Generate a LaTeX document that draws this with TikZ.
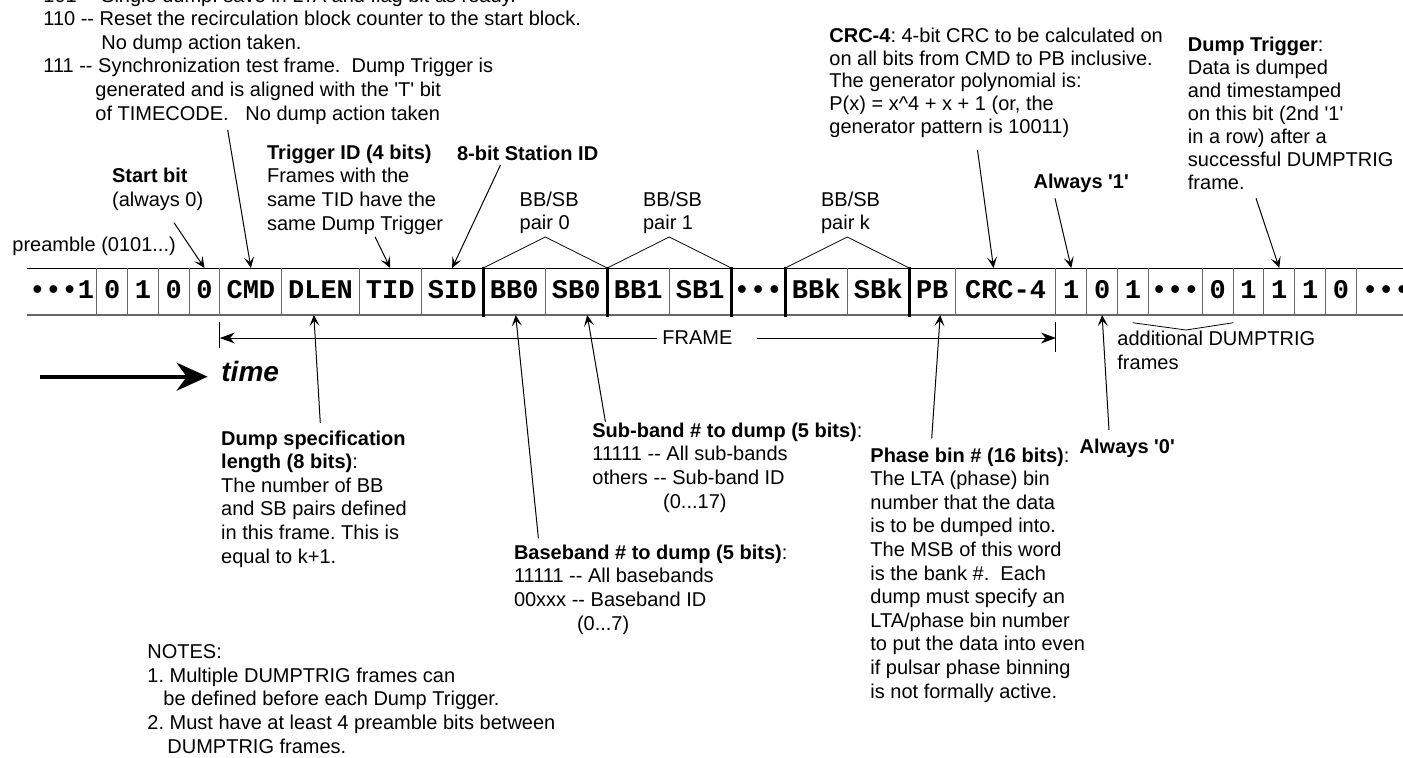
\documentclass[tikz,border=0pt]{standalone}
\usepackage{fontspec}
\setmainfont{Liberation Sans}
\newfontfamily\cellfont{Liberation Mono}
\usetikzlibrary{arrows.meta,positioning,calc}
\newcommand\dhy{-{}-}
\newcommand\sq{\textquotesingle}
\frenchspacing

\begin{document}
\begin{tikzpicture}[x=0.5pt,y=-0.5pt,
    txt/.style={anchor=base west, inner sep=0, align=left, font=\fontsize{10}{11.8}\selectfont},
    cell/.style={inner sep=0, outer sep=0, minimum height=23.5pt, text height=8pt, text depth=1.5pt,
      font=\cellfont\bfseries\fontsize{13.5}{14}\selectfont},
    bitc/.style={cell, minimum width=15.4pt},
    wordc/.style={cell, minimum width=31pt},
    sepline/.style={black!60, line width=0.5pt},
    pairline/.style={line width=1.5pt},
    ptr/.style={-{Stealth[length=5.5pt,width=5pt,inset=2.5pt]}, line width=0.5pt},
    bigptr/.style={-{Stealth[length=7.5pt,width=5.5pt]}, line width=0.5pt}]
    \useasboundingbox (0,0) rectangle (1403,757);
    \clip (0,0) rectangle (1403,757);

    % the bit stream
    \node[cell, minimum width=35pt, anchor=west] (b0) at (26.7,291.5) {•••1};
    \node[bitc, right=0pt of b0] (b1) {0};
    \node[bitc, right=0pt of b1] (b2) {1};
    \node[bitc, right=0pt of b2] (b3) {0};
    \node[bitc, right=0pt of b3] (b4) {0};
    \node[wordc, right=0pt of b4] (cmd) {CMD};
    \node[wordc, minimum width=38.65pt, right=0pt of cmd] (dlen) {DLEN};
    \node[wordc, right=0pt of dlen] (tid) {TID};
    \node[wordc, right=0pt of tid] (sid) {SID};
    \node[wordc, right=0pt of sid] (bb0) {BB0};
    \node[wordc, right=0pt of bb0] (sb0) {SB0};
    \node[wordc, right=0pt of sb0] (bb1) {BB1};
    \node[wordc, right=0pt of bb1] (sb1) {SB1};
    \node[cell, minimum width=27pt, right=0pt of sb1] (gap) {•••};
    \node[wordc, right=0pt of gap] (bbk) {BBk};
    \node[wordc, right=0pt of bbk] (sbk) {SBk};
    \node[cell, minimum width=23pt, right=0pt of sbk] (pb) {PB};
    \node[cell, minimum width=50.35pt, right=0pt of pb] (crc) {CRC-4};
    \node[bitc, right=0pt of crc] (c1) {1};
    \node[bitc, right=0pt of c1] (c2) {0};
    \node[bitc, right=0pt of c2] (c3) {1};
    \node[cell, minimum width=27pt, right=0pt of c3] (cdots) {•••};
    \node[bitc, right=0pt of cdots] (c4) {0};
    \node[bitc, right=0pt of c4] (c5) {1};
    \node[bitc, right=0pt of c5] (c6) {1};
    \node[bitc, right=0pt of c6] (c7) {1};
    \node[bitc, right=0pt of c7] (c8) {0};
    \node[cell, minimum width=30pt, right=0pt of c8] (cend) {•••};

    \draw[black!60, line width=1pt] (b0.south west) -- (cend.south east);
    \draw (b0.north west) -- (cend.north east);
    \foreach \c in {b0,b1,b2,b3,b4,cmd,dlen,tid,bb0,bb1,bbk,pb,crc,c1,c2,c3,cdots,c4,c5,c6,c7,c8}
      \draw[sepline] (\c.north east) -- (\c.south east);
    \foreach \c in {sid,sb0,sb1,gap,sbk}
      \draw[pairline] ($(\c.north east)+(0,-1)$) -- ($(\c.south east)+(0,2)$);

    % BB/SB pairs
    \foreach \a/\b in {bb0/sb0,bb1/sb1,bbk/sbk}
      \draw (\a.north west) -- ($(\a.north east)+(0,-31)$) -- (\b.north east);
    \node[txt] (pair0) at (519.3,229.6) {BB/SB\\pair 0};
    \node[txt] (pair1) at (642.7,229.6) {BB/SB\\pair 1};
    \node[txt] (pairk) at (820.7,229.6) {BB/SB\\pair k};

    % labels above (base = last line)
    \node[txt] (cmds) at (43,120) {101 \dhy{} Single dump: save in LTA and flag bit as ready.\\
      110 \dhy{} Reset the recirculation block counter to the start block.\\
      \hspace*{29pt}No dump action taken.\\
      111 \dhy{} Synchronization test frame.\ \ Dump Trigger is\\
      \hspace*{26pt}generated and is aligned with the \sq T\sq{} bit\\
      \hspace*{26pt}of TIMECODE.\ \ \ No dump action taken};
    \node[txt] (startlbl) at (111.7,206.5) {\textbf{Start bit}\\(always 0)};
    \node[txt] (tidlbl) at (266.7,230) {\textbf{Trigger ID (4 bits)}\\Frames with the\\same TID have the\\same Dump Trigger};
    \node[txt] (sidlbl) at (456.7,160) {\textbf{8-bit Station ID}};
    \node[txt] (prelbl) at (12,251) {preamble (0101...)};
    \node[txt, font=\fontsize{10}{11.3}\selectfont] (crclbl) at (829,133) {\textbf{CRC-4}: 4-bit CRC to be calculated on\\on all bits from CMD to PB inclusive.\\The generator polynomial is:\\P(x) = x\textasciicircum{}4 + x + 1 (or, the\\generator pattern is 10011)};
    \node[txt, font=\fontsize{10}{11.5}\selectfont] (dtlbl) at (1187.5,189) {\textbf{Dump Trigger}:\\Data is dumped\\and timestamped\\on this bit (2nd \sq 1\sq\\in a row) after a\\successful DUMPTRIG\\frame.};
    \node[txt] (a1lbl) at (1033.3,188) {\textbf{Always \sq 1\sq}};

    \coordinate (sbtail) at (174,222.7);
    \coordinate (cmdtail) at (227.7,130);
    \coordinate (tidtail) at (375,236.7);
    \coordinate (sidtail) at (500.5,165);
    \coordinate (crctail) at (977.5,150);
    \coordinate (a1tail) at (1055,198.3);
    \coordinate (dttail) at (1256,198.3);
    \draw[ptr] (sbtail) -- (b4.north);
    \draw[ptr] (cmdtail) -- (cmd.north);
    \draw[ptr] (tidtail) -- (tid.north);
    \draw[ptr] (sidtail) -- (sid.north);
    \draw[ptr] (crctail) -- ($(crc.north)+(-12,0)$);
    \draw[ptr] (a1tail) -- (c1.north);
    \draw[ptr] (dttail) -- (c6.north);

    % frame extent
    \draw[sepline, black] ($(cmd.south west)+(0,7)$) -- ++(0,26);
    \draw[sepline, black] ($(crc.south east)+(0,7)$) -- ++(0,30);
    \coordinate (fl) at ($(cmd.south west)+(0,23)$);
    \coordinate (fr) at ($(crc.south east)+(0,23)$);
    \node[anchor=west, inner xsep=2.5pt, font=\fontsize{10}{11.8}\selectfont] (frame) at (657,338) {FRAME};
    \draw[bigptr] (frame.west) -- (fl);
    \draw[bigptr] ($(frame.east)+(19,0)$) -- (fr);

    \draw (1132.7,322.7) -- (1186,330) -- (1233.3,322.7);
    \node[txt] (addlbl) at (1117,369) {additional DUMPTRIG\\frames};

    % time arrow
    \coordinate (tstart) at (40,376.7);
    \coordinate (tend) at (207.6,376.7);
    \draw[line width=2pt, -{Stealth[length=15.5pt,width=14pt]}] (tstart) -- (tend);
    \node[anchor=base west, inner sep=0, font=\fontsize{14}{16}\selectfont\bfseries\itshape] (timelbl) at (221,381.5) {time};

    % labels below (base = last line)
    \node[txt] (dlenlbl) at (220.8,563) {\textbf{Dump specification}\\\textbf{length (8 bits)}:\\The number of BB\\and SB pairs defined\\in this frame. This is\\equal to k+1.};
    \node[txt] (sblbl) at (592,508) {\textbf{Sub-band \# to dump (5 bits)}:\\11111 \dhy{} All sub-bands\\others \dhy{} Sub-band ID\\\hspace*{35.4pt}(0...17)};
    \node[txt] (bblbl) at (513.6,630) {\textbf{Baseband \# to dump (5 bits)}:\\11111 \dhy{} All basebands\\00xxx \dhy{} Baseband ID\\\hspace*{31.5pt}(0...7)};
    \node[txt] (pblbl) at (870,698) {\textbf{Phase bin \# (16 bits)}:\\The LTA (phase) bin\\number that the data\\is to be dumped into.\\The MSB of this word\\is the bank \#.\ \ Each\\dump must specify an\\LTA/phase bin number\\to put the data into even\\if pulsar phase binning\\is not formally active.};
    \node[txt] (a0lbl) at (1079.3,453) {\textbf{Always \sq 0\sq}};
    \node[txt] (notes) at (147,753) {NOTES:\\1. Multiple DUMPTRIG frames can\\\hspace*{8pt}be defined before each Dump Trigger.\\2. Must have at least 4 preamble bits between\\\hspace*{10pt}DUMPTRIG frames.};

    \coordinate (dlentail) at (320.3,423);
    \coordinate (bbtail) at (538.4,538.3);
    \coordinate (sbotail) at (605.4,421.7);
    \coordinate (pbtail) at (931.7,438.3);
    \coordinate (a0tail) at (1109,430);
    \draw[ptr] (dlentail) -- ($(dlen.south)+(-6.7,0)$);
    \draw[ptr] (bbtail) -- ($(bb0.south)+(1.5,0)$);
    \draw[ptr] (sbotail) -- ($(sb0.south)+(11,0)$);
    \draw[ptr] (pbtail) -- ($(pb.south)+(8,0)$);
    \draw[ptr] (a0tail) -- (c2.south);
  \end{tikzpicture}
\end{document}
